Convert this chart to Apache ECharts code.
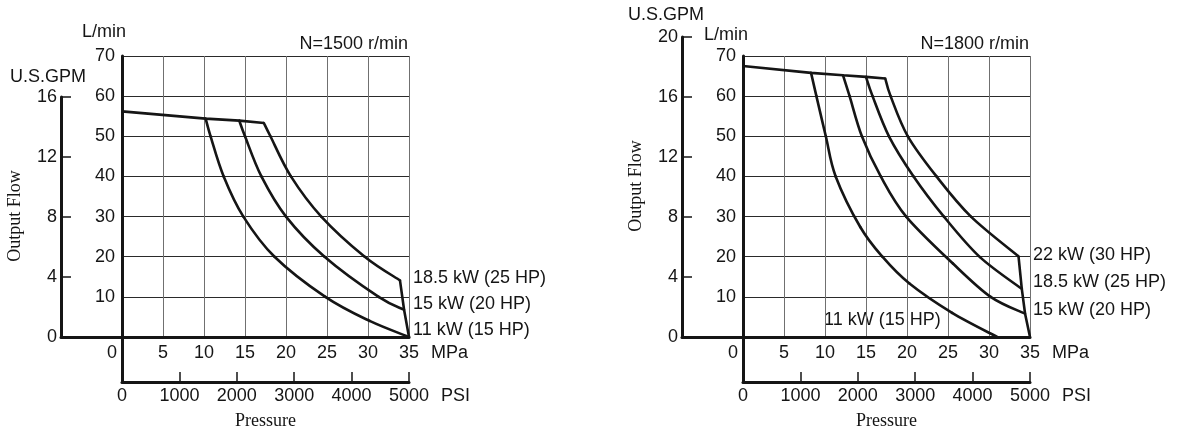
<!DOCTYPE html>
<html>
<head>
<meta charset="utf-8">
<script src="https://cdn.jsdelivr.net/npm/echarts@6/dist/echarts.min.js"></script>
<style>
  html, body { margin: 0; padding: 0; background: #fff; }
  #chart { width: 1180px; height: 429px; }
</style>
</head>
<body>
<div id="chart"></div>
<script>
// axis ranges [min, max, step]
const mpaAxis = [0, 35, 5];
const psiAxis = [0, 5000, 1000];
const lpmAxis = [0, 70, 10];
const gpmAxis1500 = [0, 16, 4];
const gpmAxis1800 = [0, 20, 4];

// N=1500 r/min, points are [MPa, L/min]
const flat1500 = [[0, 56.2], [10.2, 54.4], [14.3, 53.9], [17.3, 53.3]];
const kw11_1500 = [[10.2, 54.4], [10.8, 50], [12.4, 40], [14.8, 30], [18.6, 20], [24.8, 10], [30.2, 4], [35, 0]];
const kw15_1500 = [[14.3, 53.9], [15.0, 50], [17.0, 40], [20.0, 30], [24.7, 20], [31.3, 10], [34.4, 6.8]];
const kw185_1500 = [[17.3, 53.3], [18.1, 50], [20.6, 40], [24.3, 30], [29.6, 20], [33.9, 14.1]];
const cut1500 = [[33.9, 14.1], [34.4, 6.8], [35, 0]];
const labels1500 = ['18.5 kW (25 HP)', '15 kW (20 HP)', '11 kW (15 HP)'];

// N=1800 r/min
const flat1800 = [[0, 67.5], [8.3, 65.8], [12.2, 65.2], [15.0, 64.8], [17.35, 64.4]];
const kw11_1800 = [[8.3, 65.8], [8.95, 60], [10.1, 50], [11.3, 40], [14.3, 27.4], [17.0, 20], [20.3, 13.3], [25.5, 6.0], [31.0, 0]];
const kw15_1800 = [[12.2, 65.2], [13.0, 60], [14.5, 50], [16.8, 40], [19.9, 30], [25.6, 18.3], [30.2, 10], [34.4, 5.8]];
const kw185_1800 = [[15.0, 64.8], [15.8, 60], [17.8, 50], [20.8, 40], [24.5, 30], [28.9, 19.9], [34.0, 12.0]];
const kw22_1800 = [[17.35, 64.4], [18.0, 60], [20.1, 50], [23.6, 40], [27.8, 30], [33.6, 20.1]];
const cut1800 = [[33.6, 20.1], [34.0, 12.0], [34.4, 5.8], [35, 0]];
const labels1800 = ['22 kW (30 HP)', '18.5 kW (25 HP)', '15 kW (20 HP)', '11 kW (15 HP)'];

const sans = 'Liberation Sans';
const serif = 'Liberation Serif';
const ink = '#151515';

const option = {
    animation: false,
    grid: [],
    xAxis: [],
    yAxis: [],
    series: [],
    graphic: []
};

const thick = { show: true, lineStyle: { color: ink, width: 3 } };
const labelStyle = { fontSize: 18, fontFamily: sans, color: ink };

// draws one Catmull-Rom segment per data point, so the power curves come out round
function splineItem(points) {
    return function (params, api) {
        const i = params.dataIndex;
        if (i >= points.length - 1) return null;
        const p = k => api.coord(points[Math.max(0, Math.min(points.length - 1, k))]);
        const p0 = p(i - 1), p1 = p(i), p2 = p(i + 1), p3 = p(i + 2);
        return {
            type: 'bezierCurve',
            shape: {
                x1: p1[0], y1: p1[1], x2: p2[0], y2: p2[1],
                cpx1: p1[0] + (p2[0] - p0[0]) / 6, cpy1: p1[1] + (p2[1] - p0[1]) / 6,
                cpx2: p2[0] - (p3[0] - p1[0]) / 6, cpy2: p2[1] - (p3[1] - p1[1]) / 6
            },
            style: { fill: null, stroke: ink, lineWidth: 2.6, lineCap: 'round' }
        };
    };
}

function addPanel(x0, gpmTop, gpmAxis, curves, cut, flat) {
    const b = option.grid.length;
    option.grid.push(
        { left: x0, top: 56, width: 287, height: 281 },
        { left: x0 - 61, top: gpmTop, width: 61, height: 337 - gpmTop },
        { left: x0, top: 337, width: 287, height: 45 }
    );

    // main grid: MPa / L/min
    option.xAxis.push({
        gridIndex: b, type: 'value',
        min: mpaAxis[0], max: mpaAxis[1], interval: mpaAxis[2],
        axisLine: thick, axisTick: { show: false },
        axisLabel: Object.assign({
            margin: 7,
            formatter: v => v === 0 ? '{z|0}' : String(v),
            rich: { z: Object.assign({ padding: [0, 20, 0, 0] }, labelStyle) }
        }, labelStyle),
        splitLine: { show: true, lineStyle: { color: '#707070', width: 1 } }
    });
    option.yAxis.push({
        gridIndex: b, type: 'value',
        min: lpmAxis[0], max: lpmAxis[1], interval: lpmAxis[2],
        axisLine: thick, axisTick: { show: false },
        axisLabel: Object.assign({ margin: 7, showMinLabel: false }, labelStyle),
        splitLine: { show: true, lineStyle: { color: '#2a2a2a', width: 1 } }
    });

    // U.S.GPM axis on the far left
    option.xAxis.push({
        gridIndex: b + 1, type: 'value', min: 0, max: 1,
        axisLine: thick, axisTick: { show: false }, axisLabel: { show: false },
        splitLine: { show: false }
    });
    option.yAxis.push({
        gridIndex: b + 1, type: 'value',
        min: gpmAxis[0], max: gpmAxis[1], interval: gpmAxis[2],
        axisLine: thick,
        axisTick: { show: true, inside: true, length: 10, lineStyle: { color: ink, width: 1.5 } },
        axisLabel: Object.assign({ margin: 4 }, labelStyle),
        splitLine: { show: false }
    });

    // PSI axis underneath
    option.xAxis.push({
        gridIndex: b + 2, type: 'value', position: 'bottom',
        min: psiAxis[0], max: psiAxis[1], interval: psiAxis[2],
        axisLine: thick,
        axisTick: { show: true, inside: true, length: 10, lineStyle: { color: ink, width: 1.5 } },
        axisLabel: Object.assign({ margin: 5, formatter: v => String(v) }, labelStyle),
        splitLine: { show: false }
    });
    option.yAxis.push({
        gridIndex: b + 2, type: 'value', min: 0, max: 1,
        axisLine: thick, axisTick: { show: false }, axisLabel: { show: false },
        splitLine: { show: false }
    });

    const line = data => ({
        type: 'line', xAxisIndex: b, yAxisIndex: b, data: data,
        showSymbol: false, silent: true, z: 5,
        lineStyle: { color: ink, width: 2.6 }
    });
    option.series.push(line(flat), line(cut));
    curves.forEach(c => option.series.push({
        type: 'custom', xAxisIndex: b, yAxisIndex: b, data: c,
        renderItem: splineItem(c), silent: true, z: 5
    }));
}

function addText(x, y, text, extra) {
    option.graphic.push(Object.assign({
        type: 'text', x: x, y: y, silent: true,
        style: Object.assign({
            text: text, fill: ink, fontSize: 18, fontFamily: sans,
            textAlign: 'left', textVerticalAlign: 'middle',
            align: 'left', verticalAlign: 'middle'
        }, extra && extra.style)
    }, extra && extra.el));
}

addPanel(122, 97, gpmAxis1500, [kw11_1500, kw15_1500, kw185_1500], cut1500, flat1500);
addPanel(743, 37, gpmAxis1800, [kw11_1800, kw15_1800, kw185_1800, kw22_1800], cut1800, flat1800);

const serifMid = { style: { fontFamily: serif, textAlign: 'center', align: 'center' } };
const rightAl = { style: { textAlign: 'right', align: 'right' } };

// left chart texts
addText(82, 32, 'L/min');
addText(10, 77, 'U.S.GPM');
addText(408, 44, 'N=1500 r/min', rightAl);
addText(431, 353, 'MPa');
addText(441, 396, 'PSI');
addText(15.5, 216, 'Output Flow', Object.assign({ el: { rotation: Math.PI / 2 } }, serifMid));
addText(265.5, 421, 'Pressure', serifMid);
addText(413, 278, labels1500[0]);
addText(413, 304, labels1500[1]);
addText(413, 330, labels1500[2]);

// right chart texts
addText(704, 35, 'L/min');
addText(628, 15, 'U.S.GPM');
addText(1029, 44, 'N=1800 r/min', rightAl);
addText(1052, 353, 'MPa');
addText(1062, 396, 'PSI');
addText(636.5, 186, 'Output Flow', Object.assign({ el: { rotation: Math.PI / 2 } }, serifMid));
addText(886.5, 421, 'Pressure', serifMid);
addText(1033, 255, labels1800[0]);
addText(1033, 282, labels1800[1]);
addText(1033, 310, labels1800[2]);
addText(824, 320, labels1800[3]);

const chart = echarts.init(document.getElementById('chart'));
chart.setOption(option);
</script>
</body>
</html>
